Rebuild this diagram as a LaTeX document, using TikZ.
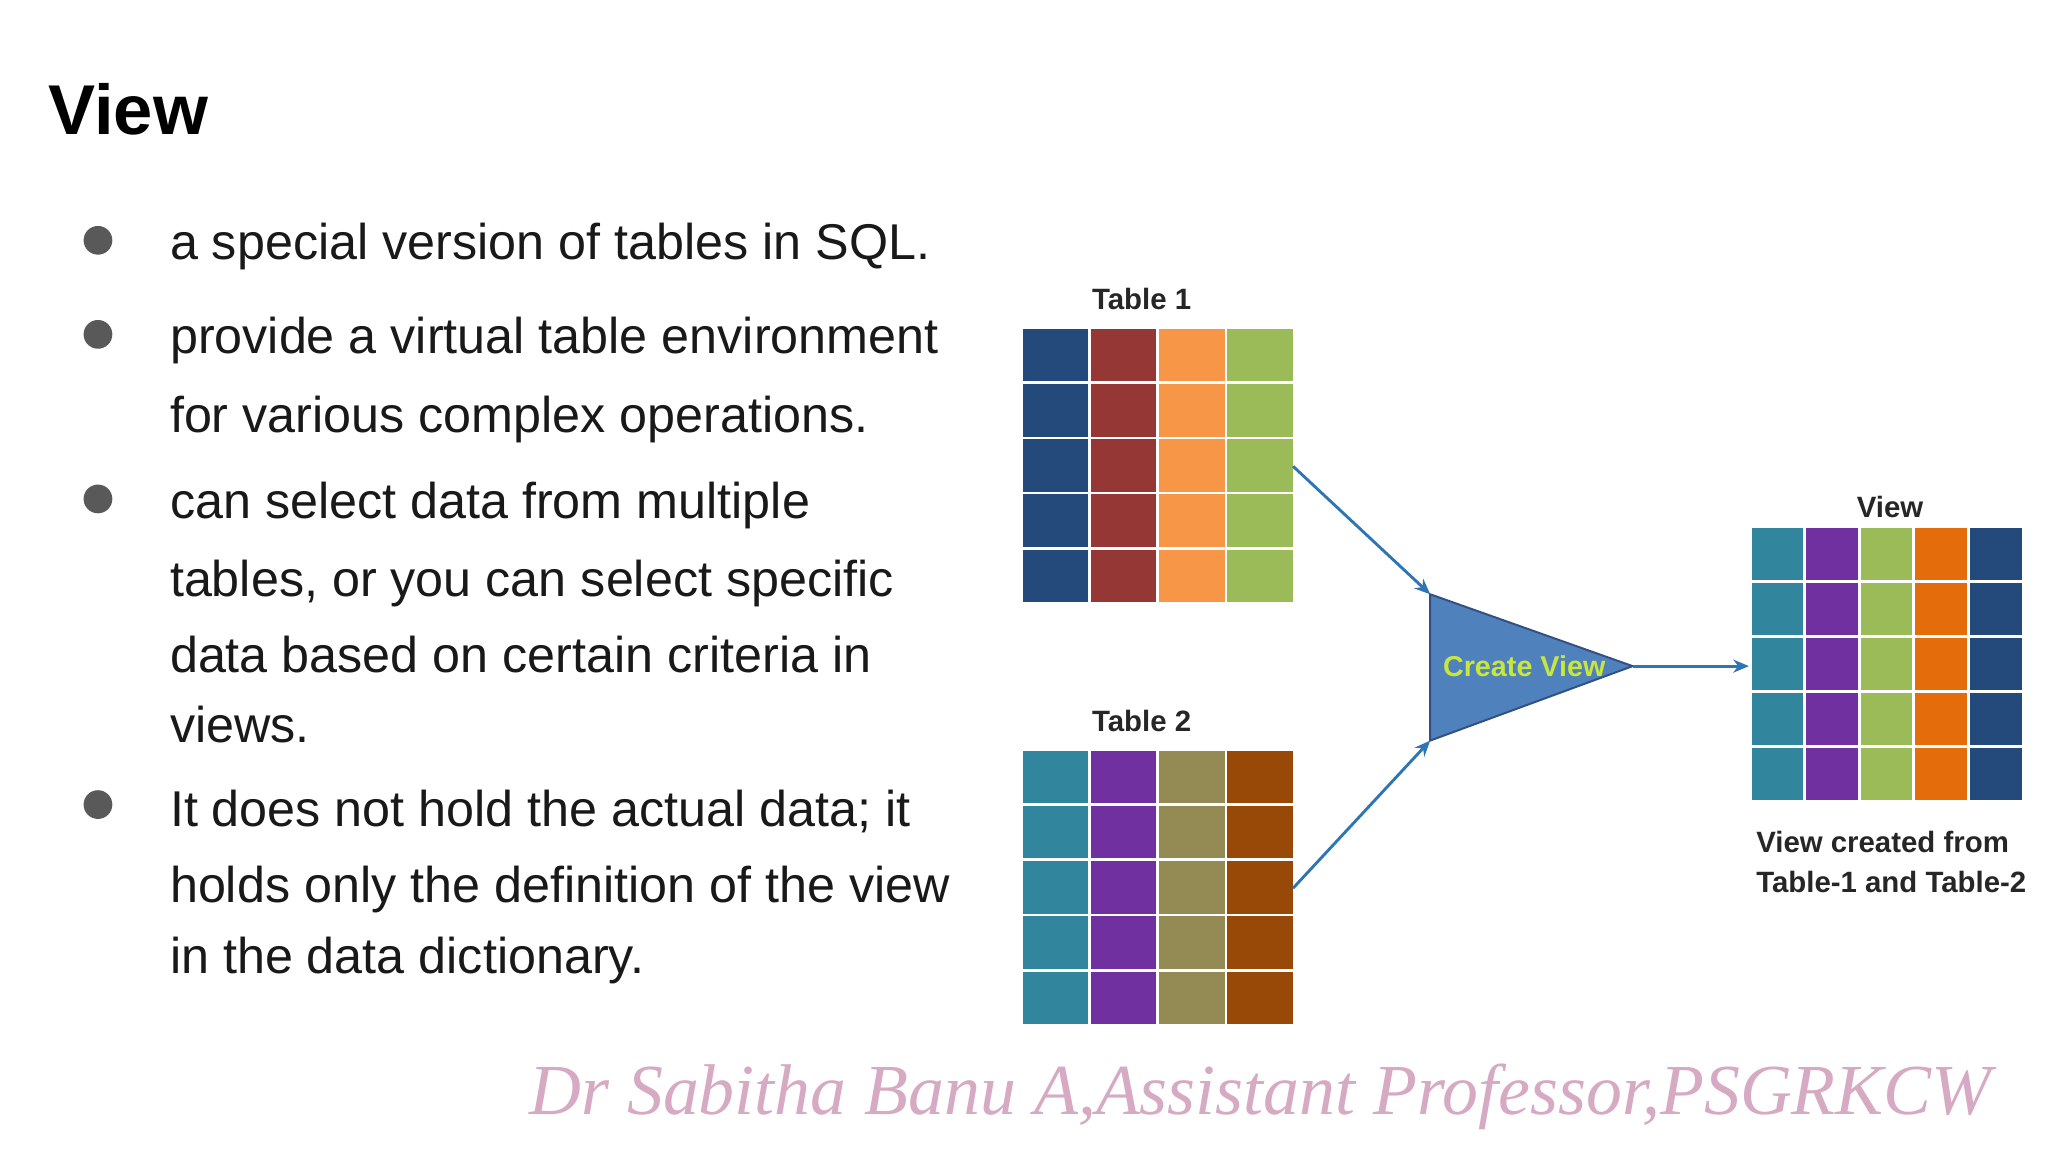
\documentclass[tikz,border=0pt]{standalone}
\usepackage{fontspec}
\usetikzlibrary{arrows.meta}
\setmainfont{Liberation Sans}
\newfontfamily\wm{Liberation Serif}
\begin{document}
\begin{tikzpicture}[x=1pt,y=-1pt,
 body/.style={anchor=west,font=\fontsize{38.5}{44}\selectfont,text=black!90,inner sep=0,yshift=-3pt},
 bul/.style={circle,fill=black!65,minimum size=22pt,inner sep=0},
 lab/.style={font=\bfseries\fontsize{22.5}{27}\selectfont,text=black!85,inner sep=0},
 arr/.style={draw={rgb,255:red,46;green,117;blue,182},line width=2.2pt,-{Stealth[length=12pt,width=10pt]}}]
\useasboundingbox (0,0) rectangle (1568,882);
\fill[white] (0,0) rectangle (1568,882);
\node[anchor=west,font=\bfseries\fontsize{54}{60}\selectfont,inner sep=0] (title) at (37,84) {View};
\node[bul] (b1) at (75,184) {};
\node[bul] (b2) at (75,256) {};
\node[bul] (b3) at (75,382) {};
\node[bul] (b4) at (75,616) {};
\node[body] (t1) at (130,186) {a special version of tables in SQL.};
\node[body] (t2) at (130,258) {provide a virtual table environment};
\node[body] (t3) at (130,318) {for various complex operations.};
\node[body] (t4) at (130,384) {can select data from multiple};
\node[body] (t5) at (130,444) {tables, or you can select specific};
\node[body] (t6) at (130,498) {data based on certain criteria in};
\node[body] (t7) at (130,552) {views.};
\node[body] (t8) at (130,618) {It does not hold the actual data; it};
\node[body] (t9) at (130,678) {holds only the definition of the view};
\node[body] (t10) at (130,732) {in the data dictionary.};
\definecolor{cA}{HTML}{244A7C}\definecolor{cB}{HTML}{953735}
\definecolor{cC}{HTML}{F79646}\definecolor{cD}{HTML}{9BBB59}
\definecolor{cE}{HTML}{31859C}\definecolor{cF}{HTML}{7030A0}
\definecolor{cG}{HTML}{948A54}\definecolor{cH}{HTML}{984807}
\definecolor{cI}{HTML}{E46C0A}
\foreach \c [count=\i from 0] in {cA,cB,cC,cD}
 \foreach \r in {0,...,4}
  \fill[\c] (783+\i*52.25,252+\r*42.2) rectangle ++(50,40);
\foreach \c [count=\i from 0] in {cE,cF,cG,cH}
 \foreach \r in {0,...,4}
  \fill[\c] (783+\i*52.25,575+\r*42.2) rectangle ++(50,40);
\foreach \c [count=\i from 0] in {cE,cF,cD,cI,cA}
 \foreach \r in {0,...,4}
  \fill[\c] (1341+\i*41.8,404+\r*42.2) rectangle ++(39.5,40);
\node[lab] (l1) at (874,229) {Table 1};
\node[lab] (l2) at (874,552) {Table 2};
\node[lab] (l3) at (1447,388) {View};
\node[lab,align=left] (l4) at (1448,660) {View created from\\[4pt]Table-1 and Table-2};
\coordinate (a1) at (990,357);
\coordinate (a2) at (990,680);
\coordinate (p1) at (1095,455);
\coordinate (p2) at (1095,567);
\coordinate (p3) at (1250,510);
\coordinate (v) at (1339,510);
\draw[fill={rgb,255:red,79;green,129;blue,189},draw={rgb,255:red,50;green,80;blue,130},line width=1.5pt] (p1) -- (p3) -- (p2) -- cycle;
\node[font=\bfseries\fontsize{22}{26}\selectfont,text={rgb,255:red,200;green,230;blue,60},inner sep=0] (cv) at (1167,510) {Create View};
\draw[arr] (a1) -- (p1);
\draw[arr] (a2) -- (p2);
\draw[arr] (p3) -- (v);
\node[font=\wm\itshape\fontsize{55}{60}\selectfont,text={rgb,255:red,215;green,170;blue,195},inner sep=0] (wmk) at (965,840) {Dr Sabitha Banu A,Assistant Professor,PSGRKCW};
\end{tikzpicture}
\end{document}
